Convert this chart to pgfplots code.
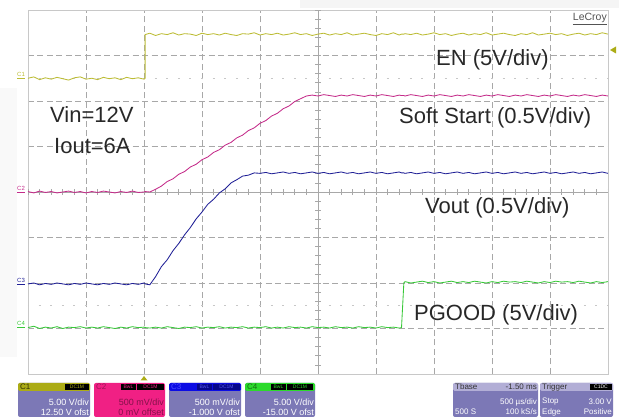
\documentclass[border=0pt]{standalone}
\usepackage{pgfplots}
\pgfplotsset{compat=1.18}
\usepackage{pgfplotstable}
\usepackage{fontspec}
\setmainfont{Liberation Sans}
\definecolor{cEN}{RGB}{188,188,52}
\definecolor{cSS}{RGB}{196,44,138}
\definecolor{cVO}{RGB}{32,32,150}
\definecolor{cPG}{RGB}{56,200,56}
\definecolor{gridc}{RGB}{168,168,168}
\definecolor{framec}{RGB}{200,200,200}
\definecolor{txt}{RGB}{40,40,40}
\definecolor{lav}{RGB}{124,120,182}
\definecolor{lavlight}{RGB}{178,174,214}
\definecolor{boxC1}{RGB}{172,172,22}
\definecolor{boxC2}{RGB}{240,32,132}
\definecolor{boxC3}{RGB}{12,12,228}
\definecolor{boxC4}{RGB}{44,218,44}

% time (ms), channel positions in divisions
\pgfplotstableread{
t en ss vo pg
-1.00 2.50 0.01 -2.02 -2.98
-0.95 2.53 -0.02 -2.00 -2.95
-0.90 2.47 0.02 -2.04 -3.00
-0.85 2.51 -0.01 -2.01 -2.97
-0.80 2.48 0.01 -2.03 -2.99
-0.75 2.52 -0.02 -2.00 -2.96
-0.70 2.49 0.00 -2.02 -3.00
-0.65 2.46 0.02 -2.04 -2.97
-0.60 2.51 -0.01 -2.01 -2.98
-0.55 2.53 0.01 -2.03 -2.96
-0.50 2.48 -0.02 -2.00 -2.99
-0.45 2.50 0.01 -2.02 -2.97
-0.40 2.47 -0.01 -2.04 -2.99
-0.35 2.52 0.02 -2.01 -2.96
-0.30 2.49 0.00 -2.03 -2.98
-0.25 2.51 -0.02 -2.00 -3.00
-0.20 2.47 0.01 -2.02 -2.97
-0.15 2.52 -0.01 -2.04 -2.99
-0.10 2.49 0.02 -2.01 -2.96
-0.05 2.51 -0.01 -2.03 -2.98
0.00 2.48 0.00 -2.00 -2.97
0.01 2.50 0.01 -2.02 -2.98
0.01 3.46 0.01 -2.02 -2.98
0.05 3.49 0.00 -2.04 -2.99
0.10 3.44 0.06 -1.86 -2.97
0.15 3.48 0.13 -1.64 -2.99
0.20 3.46 0.23 -1.49 -2.96
0.25 3.50 0.29 -1.29 -2.98
0.30 3.45 0.39 -1.13 -3.00
0.35 3.48 0.45 -0.94 -2.97
0.40 3.47 0.55 -0.78 -2.98
0.45 3.44 0.61 -0.59 -2.96
0.50 3.49 0.71 -0.44 -2.99
0.55 3.46 0.77 -0.27 -2.97
0.60 3.48 0.87 -0.16 -2.98
0.65 3.45 0.93 -0.02 -2.96
0.70 3.49 1.03 0.07 -2.99
0.75 3.46 1.09 0.20 -2.97
0.80 3.44 1.19 0.27 -2.98
0.85 3.48 1.25 0.35 -2.96
0.90 3.47 1.35 0.37 -2.99
0.95 3.50 1.41 0.42 -2.97
1.00 3.45 1.51 0.41 -2.98
1.05 3.48 1.57 0.43 -2.96
1.10 3.46 1.67 0.40 -2.99
1.15 3.49 1.73 0.42 -2.97
1.20 3.45 1.83 0.44 -2.99
1.25 3.47 1.89 0.41 -2.96
1.30 3.50 1.99 0.43 -2.98
1.35 3.46 2.05 0.40 -2.97
1.40 3.48 2.11 0.42 -2.99
1.45 3.44 2.13 0.44 -2.96
1.50 3.47 2.11 0.41 -2.98
1.55 3.49 2.14 0.43 -2.97
1.60 3.45 2.12 0.40 -2.99
1.65 3.48 2.10 0.42 -2.96
1.70 3.46 2.13 0.44 -2.98
1.75 3.50 2.11 0.41 -2.97
1.80 3.45 2.14 0.43 -2.99
1.85 3.47 2.12 0.40 -2.96
1.90 3.49 2.10 0.42 -2.98
1.95 3.46 2.13 0.44 -2.97
2.00 3.44 2.11 0.41 -2.99
2.05 3.48 2.14 0.43 -2.96
2.10 3.46 2.12 0.40 -2.98
2.15 3.50 2.10 0.42 -2.97
2.20 3.45 2.13 0.44 -2.99
2.22 3.47 2.12 0.42 -2.98
2.24 3.47 2.12 0.42 -2.00
2.25 3.48 2.11 0.41 -1.97
2.30 3.46 2.14 0.43 -2.00
2.35 3.49 2.12 0.40 -1.98
2.40 3.45 2.10 0.42 -1.96
2.45 3.47 2.13 0.44 -1.99
2.50 3.50 2.11 0.41 -1.97
2.55 3.46 2.14 0.43 -2.00
2.60 3.48 2.12 0.40 -1.98
2.65 3.44 2.10 0.42 -1.96
2.70 3.47 2.13 0.44 -1.99
2.75 3.49 2.11 0.41 -1.97
2.80 3.45 2.14 0.43 -1.99
2.85 3.48 2.12 0.40 -1.96
2.90 3.46 2.10 0.42 -1.98
2.95 3.50 2.13 0.44 -2.00
3.00 3.45 2.11 0.41 -1.97
3.05 3.47 2.14 0.43 -1.99
3.10 3.49 2.12 0.40 -1.96
3.15 3.46 2.10 0.42 -1.98
3.20 3.44 2.13 0.44 -1.97
3.25 3.48 2.11 0.41 -1.99
3.30 3.46 2.14 0.43 -1.96
3.35 3.50 2.12 0.40 -1.98
3.40 3.45 2.10 0.42 -2.00
3.45 3.47 2.13 0.44 -1.97
3.50 3.49 2.11 0.41 -1.99
3.55 3.46 2.14 0.43 -1.96
3.60 3.48 2.12 0.40 -1.98
3.65 3.44 2.10 0.42 -1.97
3.70 3.47 2.13 0.44 -1.99
3.75 3.49 2.11 0.41 -1.96
3.80 3.45 2.14 0.43 -1.98
3.85 3.48 2.12 0.40 -2.00
3.90 3.46 2.10 0.42 -1.97
3.95 3.50 2.13 0.44 -1.99
4.00 3.47 2.11 0.41 -1.97
}\scopedata

\begin{document}
\begin{tikzpicture}[x=1pt,y=1pt]
\path[use as bounding box] (0,0) rectangle (619,418);
\fill[black!4] (300,410) rectangle (619,418);
\fill[black!2.5] (0,61) rectangle (17,330);
\begin{axis}[
  at={(28pt,44pt)}, anchor=south west,
  width=580pt, height=364pt, scale only axis,
  xmin=-1, xmax=4, ymin=-4, ymax=4,
  xtick={-0.5,0,0.5,1,2,2.5,3,3.5},
  ytick={-3,-2,-1,1,2,3},
  xticklabels={}, yticklabels={},
  major tick length=0pt,
  xmajorgrids, ymajorgrids,
  grid style={gridc, dash pattern=on 6pt off 3.5pt, line width=0.7pt},
  axis line style={framec, line width=0.9pt},
]
\draw[gridc, line width=0.7pt] (axis cs:1.5,-4) -- (axis cs:1.5,4);
\draw[gridc, line width=0.7pt] (axis cs:-1,0) -- (axis cs:4,0);
\draw[gridc, line width=6pt, dash pattern=on 0.7pt off 8.4pt, dash phase=0.35pt] (axis cs:1.5,-4) -- (axis cs:1.5,4);
\draw[gridc, line width=6pt, dash pattern=on 0.7pt off 10.9pt, dash phase=0.35pt] (axis cs:-1,0) -- (axis cs:4,0);
\draw[black!22, line width=0.8pt, dash pattern=on 2pt off 9.6pt, dash phase=1pt] (axis cs:-1,2.5) -- (axis cs:4,2.5);
\draw[black!22, line width=0.8pt, dash pattern=on 2pt off 9.6pt, dash phase=1pt] (axis cs:-1,-2.5) -- (axis cs:4,-2.5);
\addplot[cEN, line width=0.85pt] table[x=t, y=en] {\scopedata};
\addplot[cSS, line width=0.85pt] table[x=t, y=ss] {\scopedata};
\addplot[cVO, line width=0.85pt] table[x=t, y=vo] {\scopedata};
\addplot[cPG, line width=0.85pt] table[x=t, y=pg] {\scopedata};
\end{axis}

% annotations
\begin{scope}[every node/.style={inner sep=0pt, text=txt, font=\fontsize{22pt}{26pt}\selectfont}]
\node[anchor=base west] at (436,352) {EN (5V/div)};
\node[anchor=base west] at (399,294) {Soft Start (0.5V/div)};
\node[anchor=base west] at (425,204) {Vout (0.5V/div)};
\node[anchor=base west] at (414,97) {PGOOD (5V/div)};
\node[anchor=base west] at (50,295) {Vin=12V};
\node[anchor=base west] at (54,264) {Iout=6A};
\end{scope}

% channel labels at left
\begin{scope}[every node/.style={inner sep=0pt, anchor=south west, font=\fontsize{6pt}{7pt}\selectfont}]
\node[text=cEN] at (17,339) {\underline{C1}};
\node[text=cSS] at (17,225) {\underline{C2}};
\node[text=cVO] at (17,133) {\underline{C3}};
\node[text=cPG] at (17,90) {\underline{C4}};
\end{scope}

% LeCroy
\node[anchor=base east, inner sep=0pt, text=txt!80, font=\fontsize{10.5pt}{12pt}\selectfont] at (607,397) {\underline{LeCroy}};

% trigger markers
\fill[boxC1] (610,368) -- (616,371.5) -- (616,364.5) -- cycle;
\fill[boxC1] (140.5,37.5) -- (147.5,37.5) -- (144,42) -- cycle;

% bottom info boxes
\begin{scope}[every node/.style={inner sep=0pt}]
% C1
\fill[lav, rounded corners=2pt] (18,1) rectangle (90,35);
\fill[boxC1, rounded corners=1.5pt] (18,27) rectangle (90,35);
\node[anchor=west, text=black!70!boxC1, font=\fontsize{8pt}{8pt}\selectfont] at (20,31) {C1};
\fill[black] (65,28) rectangle (89,34);
\node[text=boxC1, font=\fontsize{5pt}{6pt}\selectfont] at (77,31) {DC1M};
\node[anchor=east, text=white, font=\fontsize{9pt}{9pt}\selectfont] at (89,16) {5.00 V/div};
\node[anchor=east, text=white, font=\fontsize{9pt}{9pt}\selectfont] at (89,6) {12.50 V ofst};
% C2
\fill[boxC2, rounded corners=2pt] (94,1) rectangle (165,35);
\node[anchor=west, text=black!35!boxC2, font=\fontsize{8pt}{8pt}\selectfont] at (96,31) {C2};
\fill[black] (121,28) rectangle (136,34);
\fill[black] (137,28) rectangle (164,34);
\node[text=boxC2, font=\fontsize{5pt}{6pt}\selectfont] at (128.5,31) {BwL};
\node[text=boxC2, font=\fontsize{5pt}{6pt}\selectfont] at (150.5,31) {DC1M};
\node[anchor=east, text=black!45!boxC2, font=\fontsize{9pt}{9pt}\selectfont] at (164,16) {500 mV/div};
\node[anchor=east, text=black!45!boxC2, font=\fontsize{9pt}{9pt}\selectfont] at (164,6) {0 mV offset};
% C3
\fill[lav, rounded corners=2pt] (169,1) rectangle (241,35);
\fill[boxC3, rounded corners=1.5pt] (169,27) rectangle (241,35);
\node[anchor=west, text=blue!70!white, font=\fontsize{8pt}{8pt}\selectfont] at (171,31) {C3};
\fill[black!40!boxC3] (197,28) rectangle (212,34);
\fill[black!40!boxC3] (213,28) rectangle (240,34);
\node[text=boxC3!70!white, font=\fontsize{5pt}{6pt}\selectfont] at (204.5,31) {BwL};
\node[text=boxC3!70!white, font=\fontsize{5pt}{6pt}\selectfont] at (226.5,31) {DC1M};
\node[anchor=east, text=white, font=\fontsize{9pt}{9pt}\selectfont] at (240,16) {500 mV/div};
\node[anchor=east, text=white, font=\fontsize{9pt}{9pt}\selectfont] at (240,6) {-1.000 V ofst};
% C4
\fill[lav, rounded corners=2pt] (245,1) rectangle (315,35);
\fill[boxC4, rounded corners=1.5pt] (245,27) rectangle (315,35);
\node[anchor=west, text=black!50!boxC4, font=\fontsize{8pt}{8pt}\selectfont] at (247,31) {C4};
\fill[black] (271,28) rectangle (286,34);
\fill[black] (287,28) rectangle (313,34);
\node[text=boxC4, font=\fontsize{5pt}{6pt}\selectfont] at (278.5,31) {BwL};
\node[text=boxC4, font=\fontsize{5pt}{6pt}\selectfont] at (300,31) {DC1M};
\node[anchor=east, text=white, font=\fontsize{9pt}{9pt}\selectfont] at (314,16) {5.00 V/div};
\node[anchor=east, text=white, font=\fontsize{9pt}{9pt}\selectfont] at (314,6) {-15.00 V ofst};
% Tbase
\fill[lav, rounded corners=2pt] (453,1) rectangle (538,35);
\fill[lavlight, rounded corners=1.5pt] (453,27) rectangle (538,35);
\node[anchor=west, text=black!80, font=\fontsize{8pt}{8pt}\selectfont] at (455,31) {Tbase};
\node[anchor=east, text=black!80, font=\fontsize{8pt}{8pt}\selectfont] at (537,31) {-1.50 ms};
\node[anchor=east, text=white, font=\fontsize{8pt}{8pt}\selectfont] at (537,16) {500 µs/div};
\node[anchor=west, text=white, font=\fontsize{8pt}{8pt}\selectfont] at (455,6) {500 S};
\node[anchor=east, text=white, font=\fontsize{8pt}{8pt}\selectfont] at (537,6) {100 kS/s};
% Trigger
\fill[lav, rounded corners=2pt] (540,1) rectangle (613,35);
\fill[lavlight, rounded corners=1.5pt] (540,27) rectangle (613,35);
\node[anchor=west, text=black!80, font=\fontsize{8pt}{8pt}\selectfont] at (542,31) {Trigger};
\fill[black] (590,28) rectangle (612,34);
\node[text=white, font=\fontsize{5pt}{6pt}\selectfont] at (601,31) {C1DC};
\node[anchor=west, text=white, font=\fontsize{8pt}{8pt}\selectfont] at (542,16) {Stop};
\node[anchor=east, text=white, font=\fontsize{8pt}{8pt}\selectfont] at (612,16) {3.00 V};
\node[anchor=west, text=white, font=\fontsize{8pt}{8pt}\selectfont] at (542,6) {Edge};
\node[anchor=east, text=white, font=\fontsize{8pt}{8pt}\selectfont] at (612,6) {Positive};
\end{scope}
\end{tikzpicture}
\end{document}
